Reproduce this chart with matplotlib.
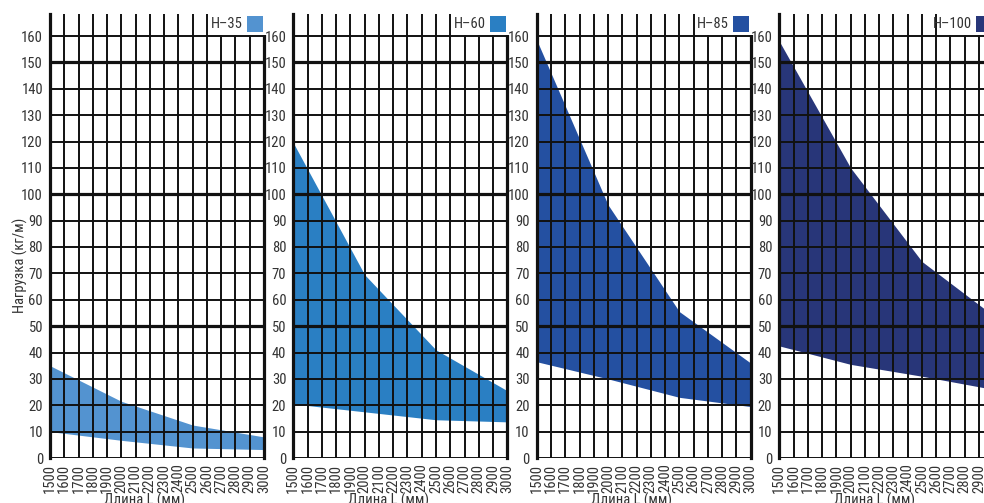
import matplotlib
matplotlib.use("Agg")
import matplotlib.pyplot as plt
import matplotlib.font_manager as fm
from matplotlib.patches import Rectangle

# ---- pick a narrow font if one is installed ----
prefs = ["LiberationSansNarrow-Regular", "RobotoCondensed-Regular", "RobotoCondensed-Light",
         "DejaVuSansCondensed.ttf", "NotoSans-Condensed.ttf", "NotoSans-CondensedRegular",
         "OpenSans_Condensed-Regular", "OpenSansCondensed", "Condensed-Regular",
         "Narrow-Regular", "Condensed.ttf"]
chosen = None
for key in prefs:
    for f in fm.fontManager.ttflist:
        if key in f.fname and f.style == "normal":
            chosen = f.fname
            break
    if chosen:
        break
if chosen:
    FS = 10.5
    FP = dict(fontproperties=fm.FontProperties(fname=chosen, size=FS))
else:
    FS = 8
    FP = dict(fontproperties=fm.FontProperties(family="DejaVu Sans", size=FS))

# ---- data ----
lengths = [1500, 2000, 2500, 3000]
x_ticks = list(range(1500, 3001, 100))
y_ticks = list(range(0, 161, 10))
thick_y = [50, 100, 150]

series_names = ["Н–35", "Н–60", "Н–85", "Н–100"]
upper_h35 = [35, 21.5, 12.5, 8]
lower_h35 = [10, 6.7, 3.8, 3.2]
upper_h60 = [119.5, 69.5, 41, 25.5]
lower_h60 = [20.5, 17.5, 14.5, 13.7]
upper_h85 = [158.5, 96, 55.5, 36]
lower_h85 = [36.5, 30, 23, 19.5]
upper_h100 = [158, 110, 74.5, 54]
lower_h100 = [42.5, 35.5, 31, 26]
colors = ["#5393d0", "#2a7fc3", "#2450a1", "#283679"]

uppers = [upper_h35, upper_h60, upper_h85, upper_h100]
lowers = [lower_h35, lower_h60, lower_h85, lower_h100]

xlabel = "Длина L (мм)"
ylabel = "Нагрузка (кг/м)"

W, H = 984, 503
fig = plt.figure(figsize=(W / 100, H / 100), dpi=100)

lefts_px = [50, 293.3, 536.7, 779.3]
width_px = 214
bottom_px = 458
top_px = 13.5
px_per_unit = 2.6375
ytop = (bottom_px - top_px) / px_per_unit

txt_color = "#333333"
thin = 1.4
thick = 2.3

for i in range(4):
    l = lefts_px[i]
    ax = fig.add_axes([l / W, (H - bottom_px) / H, width_px / W, (bottom_px - top_px) / H])
    ax.set_xlim(1500, 3000)
    ax.set_ylim(0, ytop)
    ax.fill_between(lengths, lowers[i], uppers[i], color=colors[i], lw=0, zorder=1)
    ax.set_axisbelow(False)
    ax.set_xticks(x_ticks)
    ax.set_yticks(y_ticks)
    ax.set_xticklabels([str(v) for v in x_ticks], rotation=90, color=txt_color, **FP)
    ax.set_yticklabels([str(v) for v in y_ticks], color=txt_color, **FP)
    ax.tick_params(length=0, pad=4)
    ax.tick_params(axis='y', pad=5)
    ax.grid(True, color="#111111", lw=thin, zorder=2.5)
    for yv in thick_y:
        ax.axhline(yv, color="#111111", lw=thick, zorder=2.6)
    for s in ["top", "bottom"]:
        ax.spines[s].set_visible(False)
    for s in ["left", "right"]:
        ax.spines[s].set_linewidth(thick)
        ax.spines[s].set_color("#111111")
        ax.spines[s].set_zorder(3)
    # legend box
    ax.add_patch(Rectangle((2620, 160.5), 400, ytop - 160.5 + 10, facecolor="white",
                           edgecolor="none", zorder=10, clip_on=False))
    sq = 16 / px_per_unit
    x_sq_right = 3000 - 1.5 * 1500 / width_px
    x_sq_left = x_sq_right - 16 * 1500 / width_px
    y_sq_center = (bottom_px - 24) / px_per_unit
    ax.add_patch(Rectangle((x_sq_left, y_sq_center - sq / 2), x_sq_right - x_sq_left, sq,
                           facecolor=colors[i], edgecolor="none", zorder=11, clip_on=False))
    ax.text(x_sq_left - 4 * 1500 / width_px, y_sq_center, series_names[i], ha="right", va="center",
            color=txt_color, zorder=12, clip_on=False, **FP)
    fig.text((l + width_px / 2 - 12) / W, 1 - 500 / H, xlabel, ha="center", va="center",
             color=txt_color, **FP)

fig.text(20 / W, 1 - 265 / H, ylabel, rotation=90, ha="center", va="center",
         color=txt_color, **FP)

fig.savefig("out.png", dpi=100)
